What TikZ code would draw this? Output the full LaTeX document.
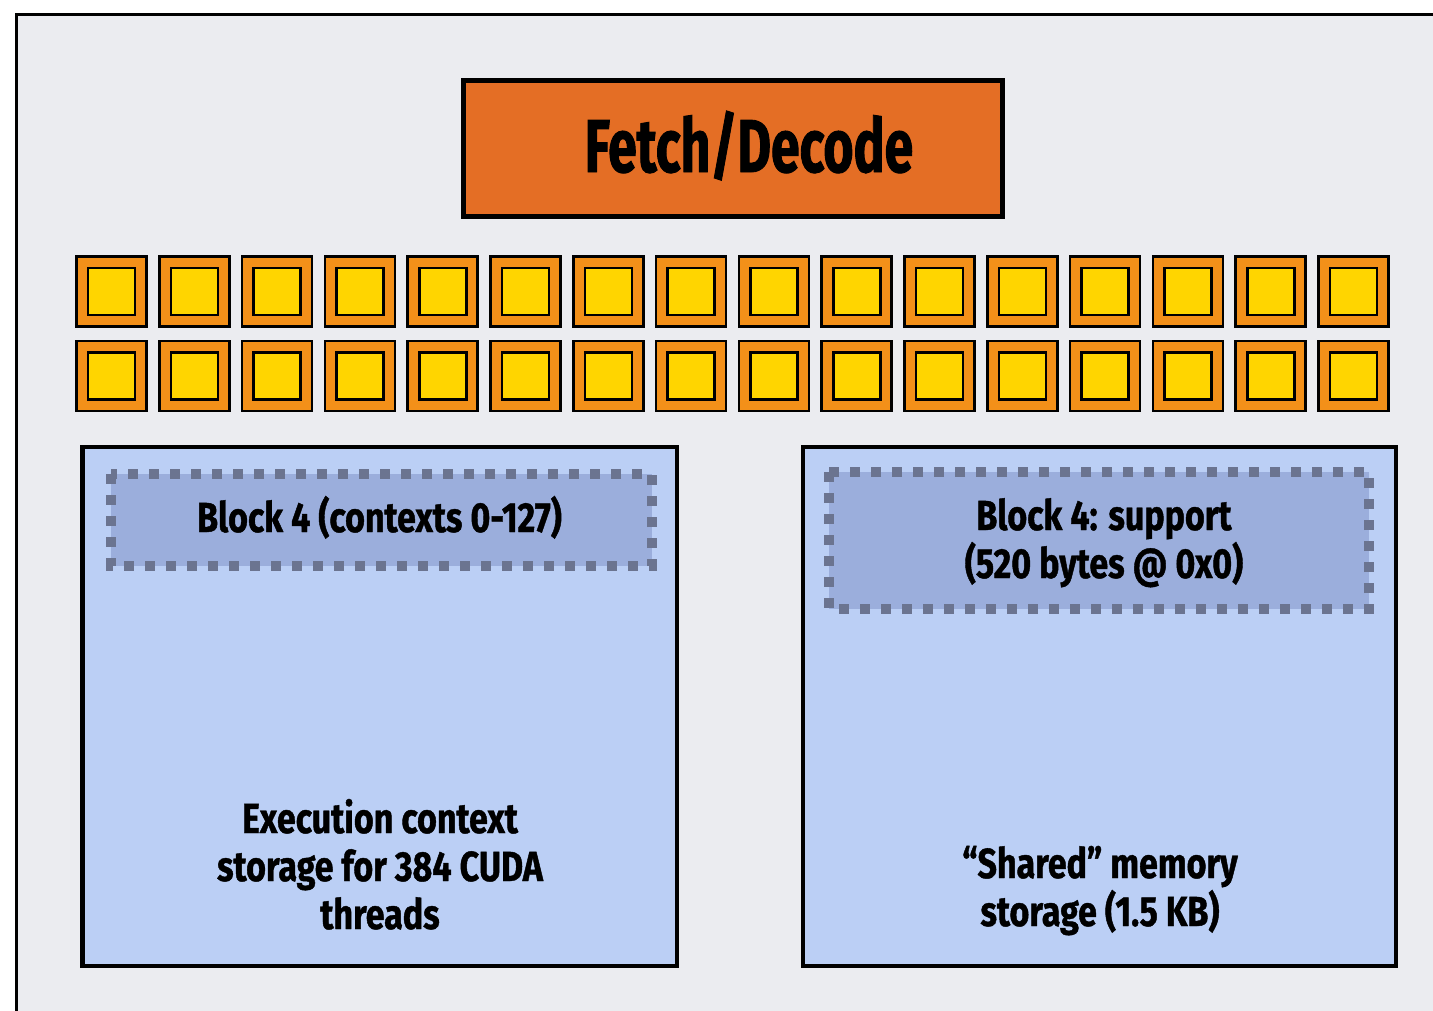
\documentclass[tikz,border=0pt]{standalone}
\usepackage{fontspec}
\newfontfamily\labfont[FakeStretch=0.81,FakeBold=1]{Fira Sans}
\newfontfamily\bigfont[FakeStretch=0.69,FakeBold=1.2]{Fira Sans}
\definecolor{framegray}{HTML}{EBECF0}
\definecolor{fetchorange}{HTML}{E46E25}
\definecolor{sqorange}{HTML}{F39019}
\definecolor{sqyellow}{HTML}{FFD500}
\definecolor{memblue}{HTML}{BBCFF5}
\definecolor{blockblue}{HTML}{9BAEDC}
\definecolor{dashgray}{HTML}{6B7490}
\tikzset{
  lab/.style={font=\labfont\bfseries\fontsize{42}{48}\selectfont, anchor=base, inner sep=0pt},
  biglab/.style={font=\bigfont\bfseries\fontsize{75}{80}\selectfont, anchor=base, inner sep=0pt},
  corebox/.style={draw=black, line width=2.6pt, fill=sqorange},
  coreinner/.style={draw=black, line width=2.6pt, fill=sqyellow},
  membox/.style={draw=black, line width=4.5pt, fill=memblue},
  blockbox/.style={draw=dashgray, line width=10pt, dash pattern=on 10pt off 11pt, fill=blockblue},
}
\begin{document}
\begin{tikzpicture}[x=1pt,y=-1pt]
\useasboundingbox (0,0) rectangle (1433,1010);
\clip (0,0) rectangle (1433,1010);
\fill[white] (0,0) rectangle (1433,1010);
% outer frame
\draw[line width=3pt, fill=framegray] (16.5,14) rectangle (1460,1040);
% fetch/decode
\draw[line width=5pt, fill=fetchorange] (463.5,80.5) rectangle (1002,216.5);
\node[biglab] (fd) at (749,172) {Fetch/Decode};
% cores
\foreach \r/\yc in {1/291.5,2/376}{
  \foreach \c in {0,...,15}{
    \pgfmathsetmacro{\xc}{111.5+82.8*\c}
    \draw[corebox] (\xc-35,\yc-35) rectangle (\xc+35,\yc+35);
    \draw[coreinner] (\xc-23.5,\yc-23.5) rectangle (\xc+23.5,\yc+23.5);
  }
}
% memory boxes
\draw[membox] (82.5,447) rectangle (677,966);
\draw[membox] (803,447) rectangle (1396,966);
% block boxes
\draw[blockbox] (111,474) rectangle (652,566);
\draw[blockbox] (829,472) rectangle (1369,609);
% labels
\node[lab] (b4l) at (379.5,532) {Block 4 (contexts 0-127)};
\node[lab] (b4r1) at (1104,530) {Block 4: support};
\node[lab] (b4r2) at (1104,578) {(520 bytes @ 0x0)};
\node[lab] (ex1) at (380,833) {Execution context};
\node[lab] (ex2) at (380,881) {storage for 384 CUDA};
\node[lab] (ex3) at (380,929) {threads};
\node[lab] (sh1) at (1100,878) {“Shared” memory};
\node[lab] (sh2) at (1100,926) {storage (1.5 KB)};
\end{tikzpicture}
\end{document}
